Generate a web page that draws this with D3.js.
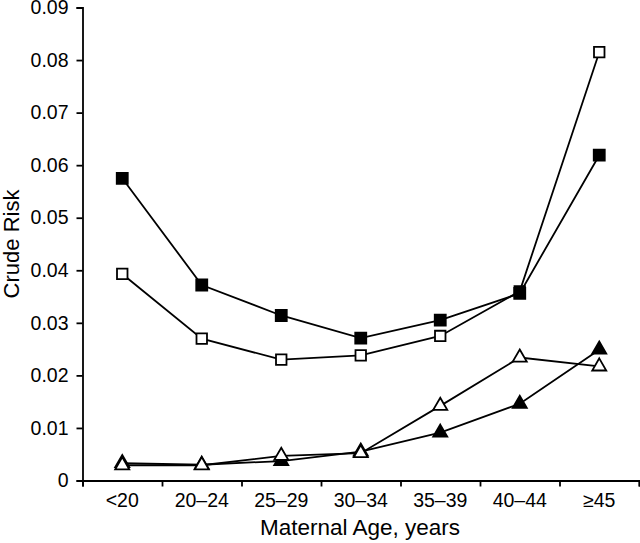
<!DOCTYPE html>
<html><head><meta charset="utf-8">
<script src="https://cdn.jsdelivr.net/npm/d3@7"></script>
<style>
html,body{margin:0;padding:0;background:#fff;}
svg{display:block;}
text{font-family:"Liberation Sans",Arial,sans-serif;fill:#000;}
</style></head>
<body>
<svg id="chart" width="640" height="543"></svg>
<script>
const categories = ["<20","20\u201324","25\u201329","30\u201334","35\u201339","40\u201344","\u226545"];
const filledSquares = [0.0575, 0.0372, 0.0314, 0.0271, 0.0305, 0.0356, 0.0619];
const openSquares   = [0.0393, 0.0270, 0.0230, 0.0238, 0.0275, 0.0360, 0.0815];
const filledTriangles = [0.0033, 0.0030, 0.0037, 0.0055, 0.0091, 0.0146, 0.0249];
const openTriangles   = [0.0029, 0.0029, 0.0047, 0.0052, 0.0142, 0.0234, 0.0217];
const yTicks = [0,0.01,0.02,0.03,0.04,0.05,0.06,0.07,0.08,0.09];
const xTitle = "Maternal Age, years";
const yTitle = "Crude Risk";

const svg = d3.select("#chart");
const L = 82.5, R = 639, T = 7.5, B = 480.5;
const x = d3.scaleBand().domain(categories).range([L, R]).padding(0);
const xb = d3.scaleLinear().domain([0, categories.length]).range([L, R]);
const y = d3.scaleLinear().domain([0, 0.09]).range([B, T]);

const yAxis = svg.append("g").attr("transform", `translate(${L},0)`)
  .call(d3.axisLeft(y).tickValues(yTicks).tickSize(6).tickPadding(8)
    .tickFormat(d => d === 0 ? "0" : d3.format(".2f")(d)));
const xAxisT = svg.append("g").attr("transform", `translate(0,${B})`)
  .call(d3.axisBottom(xb).tickValues(d3.range(categories.length + 1)).tickSize(6).tickFormat(""));
const xAxis = svg.append("g").attr("transform", `translate(0,${B})`)
  .call(d3.axisBottom(x).tickSize(0).tickPadding(13));
xAxis.select(".domain").remove();
[yAxis, xAxisT].forEach(g => {
  g.select(".domain").attr("stroke", "#000").attr("stroke-width", 1.8);
  g.selectAll(".tick line").attr("stroke", "#000").attr("stroke-width", 1.8);
});
yAxis.selectAll("text").style("font-size", "19.5px").attr("fill", "#000");
xAxis.selectAll("text").style("font-size", "19.5px").attr("fill", "#000");

svg.append("text").attr("x", 360).attr("y", 535).attr("text-anchor", "middle")
  .style("font-size", "22.5px").text(xTitle);
svg.append("text").attr("transform", `translate(19,${(T + B) / 2}) rotate(-90)`)
  .attr("text-anchor", "middle").style("font-size", "22px").text(yTitle);

const cx = i => x(categories[i]) + x.bandwidth() / 2;
const line = d3.line().x((d, i) => cx(i)).y(d => y(d));

const series = [
  {vals: filledTriangles, sym: d3.symbolTriangle, fill: "#000", size: 85},
  {vals: openTriangles, sym: d3.symbolTriangle, fill: "#fff", size: 85},
  {vals: openSquares, sym: d3.symbolSquare, fill: "#fff", size: 110},
  {vals: filledSquares, sym: d3.symbolSquare, fill: "#000", size: 121},
];
series.forEach(s => {
  svg.append("path").datum(s.vals).attr("d", line)
    .attr("fill", "none").attr("stroke", "#000").attr("stroke-width", 1.8);
});
series.forEach(s => {
  svg.append("g").selectAll("path").data(s.vals).join("path")
    .attr("transform", (d, i) => `translate(${cx(i)},${y(d)})`)
    .attr("d", d3.symbol().type(s.sym).size(s.size))
    .attr("fill", s.fill).attr("stroke", "#000").attr("stroke-width", 1.8);
});
</script>
</body></html>
